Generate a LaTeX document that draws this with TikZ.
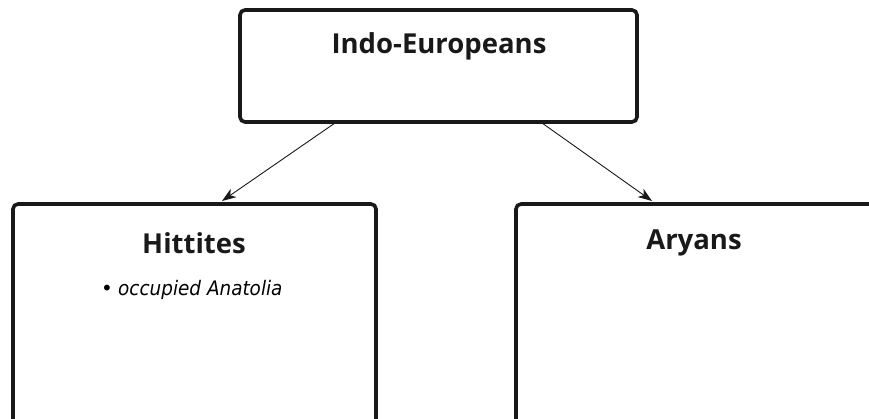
\documentclass[tikz,border=0pt]{standalone}
\usepackage{fontspec}
\setmainfont{Open Sans}
\newfontfamily\handfont{DejaVu Sans}
\usetikzlibrary{arrows.meta}
\begin{document}
\begin{tikzpicture}[x=1pt,y=-1pt,
  boxstyle/.style={draw=black!90,line width=3.6pt,rounded corners=5pt},
  titlestyle/.style={font=\fontsize{27.5}{30}\selectfont\bfseries,text=black!90,inner sep=0pt},
  arrowstyle/.style={draw=black!90,line width=0.9pt,-{Stealth[length=14pt,width=10pt,inset=4pt]}}]
  \useasboundingbox (0,0) rectangle (869,419);
  \clip (0,0) rectangle (869,419);
  % boxes
  \draw[boxstyle] (240,10) rectangle (637,122);
  \draw[boxstyle] (13,204) rectangle (376,440);
  \draw[boxstyle] (516,204) rectangle (900,440);
  \node[titlestyle] (ie) at (439,46) {Indo-Europeans};
  \node[titlestyle] (hit) at (194,243) {Hittites};
  \node[titlestyle] (ary) at (694,243) {Aryans};
  \node[inner sep=0pt,anchor=west,font=\handfont\fontsize{20}{24}\selectfont] (bul) at (101,290) {\textbullet};
  \node[inner sep=0pt,anchor=west,font=\handfont\itshape\fontsize{20}{24}\selectfont\addfontfeature{FakeStretch=0.92}] (occ) at (118,290) {occupied Anatolia};
  \coordinate (a1s) at (335,123);
  \coordinate (a1e) at (222,201);
  \coordinate (a2s) at (542,123);
  \coordinate (a2e) at (652,201);
  \draw[arrowstyle] (a1s) -- (a1e);
  \draw[arrowstyle] (a2s) -- (a2e);
\end{tikzpicture}
\end{document}
